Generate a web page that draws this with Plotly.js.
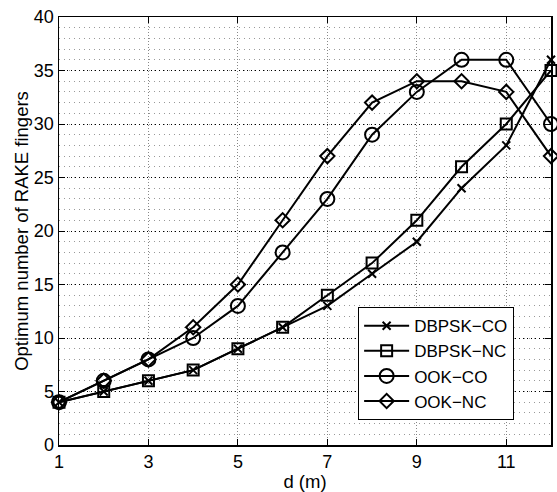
<!DOCTYPE html>
<html>
<head>
<meta charset="utf-8">
<script src="https://cdn.plot.ly/plotly-3.0.1.min.js"></script>
<style>html,body{margin:0;padding:0;background:#fff;}#chart{width:557px;height:492px;}</style>
</head>
<body>
<div id="chart"></div>
<script>
const distances = [1, 2, 3, 4, 5, 6, 7, 8, 9, 10, 11, 12];
const dbpskCO = [4, 5, 6, 7, 9, 11, 13, 16, 19, 24, 28, 36];
const dbpskNC = [4, 5, 6, 7, 9, 11, 14, 17, 21, 26, 30, 35];
const ookCO   = [4, 6, 8, 10, 13, 18, 23, 29, 33, 36, 36, 30];
const ookNC   = [4, 6, 8, 11, 15, 21, 27, 32, 34, 34, 33, 27];
const seriesNames = ['DBPSK\u2212CO', 'DBPSK\u2212NC', 'OOK\u2212CO', 'OOK\u2212NC'];
const xTickVals = [1, 3, 5, 7, 9, 11];
const yTickVals = [0, 5, 10, 15, 20, 25, 30, 35, 40];

const FONT = '"Liberation Sans", Arial, Helvetica, sans-serif';
function mk(name, y, symbol, size) {
  return {
    x: distances, y: y, name: name, type: 'scatter', mode: 'lines+markers',
    line: {color: '#000', width: 2},
    marker: {symbol: symbol, size: size, color: '#000', line: {color: '#000', width: 2}},
    cliponaxis: false
  };
}
const data = [
  mk(seriesNames[0], dbpskCO, 'x-thin-open', 8),
  mk(seriesNames[1], dbpskNC, 'square-open', 11),
  mk(seriesNames[2], ookCO, 'circle-open', 14),
  mk(seriesNames[3], ookNC, 'diamond-open', 11)
];
const layout = {
  width: 557, height: 492,
  margin: {l: 59, r: 6, t: 17, b: 47, pad: 0},
  paper_bgcolor: '#fff', plot_bgcolor: '#fff',
  font: {family: FONT, size: 18, color: '#000'},
  showlegend: true,
  legend: {
    x: 0.608, y: 0.19, xanchor: 'left', yanchor: 'middle',
    bgcolor: '#fff', bordercolor: '#000', borderwidth: 1,
    font: {family: FONT, size: 17, color: '#000'},
    itemwidth: 45,
    tracegroupgap: 0
  },
  xaxis: {
    range: [1, 12], tickvals: xTickVals, ticktext: xTickVals.map(String),
    ticks: 'inside', ticklen: 6, tickwidth: 1, tickcolor: '#000',
    showline: true, linecolor: '#000', linewidth: 1.5, mirror: 'ticks',
    showgrid: true, gridcolor: '#888', griddash: '1px,2px', gridwidth: 1,
    zeroline: false,
    tickfont: {family: FONT, size: 18},
    title: {text: 'd (m)', font: {family: FONT, size: 18.5}, standoff: 2}
  },
  yaxis: {
    range: [0, 40], tickvals: yTickVals, ticktext: yTickVals.map(String),
    ticks: 'inside', ticklen: 6, tickwidth: 1, tickcolor: '#000',
    showline: true, linecolor: '#000', linewidth: 1.5, mirror: 'ticks',
    showgrid: true, gridcolor: '#000', griddash: '1px,3px', gridwidth: 1,
    zeroline: false,
    minor: {dtick: 1, tick0: 0, showgrid: true, gridcolor: '#999', griddash: '1px,4px', gridwidth: 1, ticks: ''},
    tickfont: {family: FONT, size: 18},
    title: {text: 'Optimum number of RAKE fingers', font: {family: FONT, size: 18.5}, standoff: 0}
  }
};
Plotly.newPlot('chart', data, layout, {displayModeBar: false, staticPlot: true});
</script>
</body>
</html>
